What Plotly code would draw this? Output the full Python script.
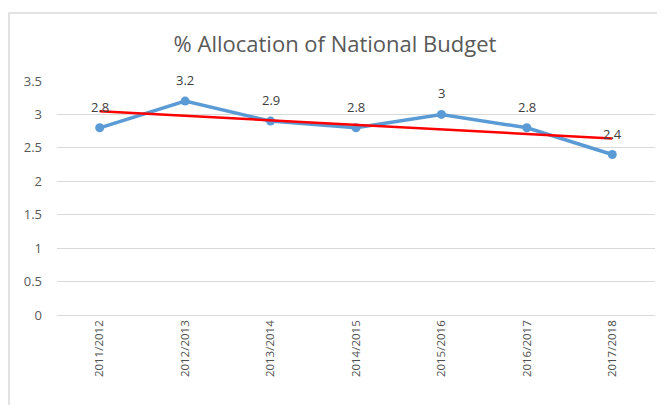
import numpy as np
import plotly.graph_objects as go

categories = ["2011/2012", "2012/2013", "2013/2014", "2014/2015", "2015/2016", "2016/2017", "2017/2018"]
values = [2.8, 3.2, 2.9, 2.8, 3.0, 2.8, 2.4]
label_texts = ["2.8", "3.2", "2.9", "2.8", "3", "2.8", "2.4"]
y_ticks = [0, 0.5, 1, 1.5, 2, 2.5, 3, 3.5]
y_tick_labels = ["0", "0.5", "1", "1.5", "2", "2.5", "3", "3.5"]
title = "% Allocation of National Budget"

# linear trendline (least squares fit, like Excel)
xi = np.arange(1, len(values) + 1)
slope, intercept = np.polyfit(xi, values, 1)
trend = slope * xi + intercept

W, H = 657, 397
L, R, T, B = 49, 10, 73, 90
PW, PH = W - L - R, H - T - B

fig = go.Figure()
fig.add_trace(go.Scatter(
    x=categories, y=values, mode="lines+markers",
    line=dict(color="#5B9BD5", width=3.5),
    marker=dict(color="#5B9BD5", size=9),
    showlegend=False, hoverinfo="skip",
))
fig.add_trace(go.Scatter(
    x=categories, y=trend, mode="lines",
    line=dict(color="#FF0000", width=2.5),
    showlegend=False, hoverinfo="skip",
))

for c, v, t in zip(categories, values, label_texts):
    fig.add_annotation(x=c, y=v, text=t, showarrow=False, yshift=21,
                       font=dict(family="Open Sans, Liberation Sans, sans-serif", size=13, color="#404040"))

fig.add_shape(type="rect", xref="paper", yref="paper",
              x0=(1 - L) / PW, x1=(W + 20 - L) / PW,
              y0=-(B + 20) / PH, y1=(H - 5 - B) / PH,
              line=dict(color="#D9D9D9", width=1.5), fillcolor="rgba(0,0,0,0)", layer="below")

fig.update_layout(
    width=W, height=H,
    margin=dict(l=L, r=R, t=T, b=B),
    paper_bgcolor="white", plot_bgcolor="white",
    title=dict(text=title, x=(335 - 8) / W, xanchor="center",
               yref="container", y=1 - 36 / H, yanchor="middle",
               font=dict(family="Open Sans, Noto Sans, sans-serif", size=22, color="#595959")),
    xaxis=dict(
        type="category", tickangle=-90, showgrid=False, showline=False, ticks="",
        tickfont=dict(family="Open Sans, Liberation Sans, sans-serif", size=11.5, color="#505050"),
        range=[-0.5, len(categories) - 0.5], ticklabelstandoff=2,
    ),
    yaxis=dict(
        range=[0, 3.5], tickvals=y_ticks, ticktext=y_tick_labels,
        showgrid=True, gridcolor="#D9D9D9", gridwidth=1,
        zeroline=True, zerolinecolor="#D9D9D9", zerolinewidth=1,
        showline=False, ticks="", ticklabelstandoff=14,
        tickfont=dict(family="Open Sans, Liberation Sans, sans-serif", size=13, color="#595959"),
    ),
)

fig.write_html("out.html")
